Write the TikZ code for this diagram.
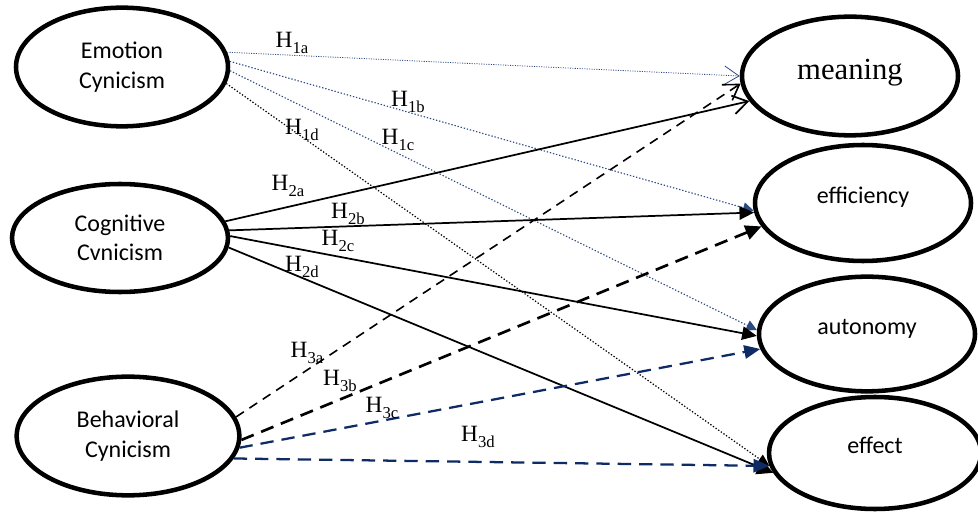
\documentclass[tikz,border=0pt]{standalone}
\usepackage{fontspec}
\setmainfont{Liberation Serif}
\newfontfamily\sansfnt{Carlito}
\usetikzlibrary{shapes.geometric,arrows.meta}
\definecolor{dotblue}{HTML}{2E4A80}
\definecolor{navy}{HTML}{0F2B66}
\newcommand\hyp[1]{H\raisebox{-0.22em}{\fontsize{12.5}{12.5}\selectfont #1}}
\begin{document}
\begin{tikzpicture}[x=0.75pt,y=-0.75pt,
  ell/.style={ellipse,draw,line width=3.4pt,inner sep=0pt,font=\sansfnt\fontsize{18}{22}\selectfont,align=center},
  lab/.style={font=\fontsize{17.5}{17.5}\selectfont,inner sep=0pt},
  openhead/.style={-{Straight Barb[length=11pt,width=14pt]}},
  fillhead/.style={-{Triangle[length=11pt,width=10pt]}},
  bluedot/.style={draw=dotblue,line width=0.85pt,dash pattern=on 1pt off 1.4pt},
  fineblue/.style={draw=dotblue,line width=0.6pt,dash pattern=on 0.8pt off 1pt},
  blackdot/.style={draw=black,line width=0.9pt,dash pattern=on 1pt off 1.4pt},
  solidline/.style={draw=black,line width=1.3pt},
  thindash/.style={draw=black,line width=1.2pt,dash pattern=on 7pt off 5pt},
  thickdash/.style={draw=black,line width=2pt,dash pattern=on 10pt off 6pt},
  navydash/.style={draw=navy,line width=1.7pt,dash pattern=on 10pt off 6pt}]
\useasboundingbox (0,0) rectangle (978,513);

% source ellipses
\node[ell,minimum width=159pt,minimum height=89pt] (emo) at (122,67) {Emotion\\Cynicism};
\node[ell,minimum width=162pt,minimum height=81pt] (cog) at (120,238) {Cognitive\\Cvnicism};
\node[ell,minimum width=167pt,minimum height=89pt] (beh) at (128,436) {Behavioral\\Cynicism};

% target ellipses
\node[ell,minimum width=162pt,minimum height=89pt,font=\fontsize{23}{23}\selectfont] (mea) at (850,76) {\raisebox{10pt}{meaning}};
\node[ell,minimum width=162pt,minimum height=87pt] (eff) at (863,203) {\raisebox{11pt}{efficiency}};
\node[ell,minimum width=162pt,minimum height=86pt] (aut) at (867,334) {\raisebox{11pt}{autonomy}};
\node[ell,minimum width=159pt,minimum height=84pt] (efc) at (875,453) {\raisebox{11pt}{effect}};

% H1
\draw[fineblue,openhead] (emo.8) -- (mea.180);
\draw[bluedot,-{Triangle[length=8pt,width=8pt,fill=dotblue]}] (emo.3) -- (eff.184);
\draw[bluedot,-{Triangle[length=8pt,width=8pt,fill=dotblue]}] (emo.-2) -- (aut.178);
\draw[blackdot,-{Triangle[length=9pt,width=8pt]}] (emo.-9) -- (efc.187);

% H2
\draw[solidline,openhead] (cog.9) -- (mea.194);
\draw[solidline,fillhead] (cog.4) -- (eff.185);
\draw[solidline,fillhead] (cog.1) -- (aut.181);
\draw[solidline,-{Triangle[length=12pt,width=12pt]}] (cog.-5) -- (efc.191);

% H3
\draw[thindash,openhead] (beh.10) -- (mea.184);
\draw[thickdash,-{Triangle[length=12pt,width=11pt]}] (beh.-2) -- (eff.193);
\draw[navydash,-{Triangle[length=12pt,width=10pt,fill=navy]}] (beh.-6) -- (aut.188);
\draw[navydash,-{Triangle[length=12pt,width=10pt,fill=navy]}] (beh.-12) -- (efc.187);

% labels
\node[lab] (l1a) at (292,43) {\hyp{1a}};
\node[lab] (l1b) at (408,102) {\hyp{1b}};
\node[lab] (l1c) at (398,140) {\hyp{1c}};
\node[lab] (l1d) at (302,130) {\hyp{1d}};
\node[lab] (l2a) at (288,186) {\hyp{2a}};
\node[lab] (l2b) at (348,214) {\hyp{2b}};
\node[lab] (l2c) at (338,241) {\hyp{2c}};
\node[lab] (l2d) at (302,267) {\hyp{2d}};
\node[lab] (l3a) at (307,353) {\hyp{3a}};
\node[lab] (l3b) at (340,381) {\hyp{3b}};
\node[lab] (l3c) at (382,408) {\hyp{3c}};
\node[lab] (l3d) at (478,437) {\hyp{3d}};
\end{tikzpicture}
\end{document}
